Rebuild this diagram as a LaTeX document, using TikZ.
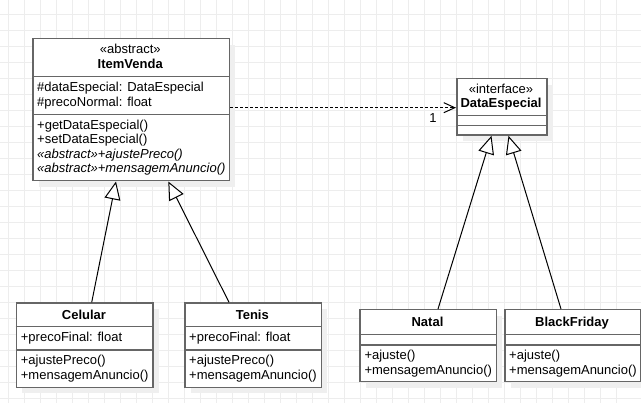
\documentclass[tikz,border=0pt]{standalone}
\usepackage{fontspec}
\setmainfont{Liberation Sans}
\usetikzlibrary{arrows.meta,calc,shadows}
\definecolor{gridc}{HTML}{EDEDED}
\definecolor{boxc}{HTML}{666666}
\definecolor{shadc}{HTML}{EFEFEF}
\tikzset{
  classbox/.style={rectangle, draw=boxc, line width=1.5pt, fill=white, inner sep=0pt,
    anchor=north west,
    drop shadow={shadow xshift=6pt, shadow yshift=-6pt, fill=shadc, opacity=1}},
  sepline/.style={draw=boxc, line width=1.5pt},
  txt/.style={inner sep=0pt, font=\fontsize{13}{14.4}\selectfont},
  gen/.style={draw=black, line width=1pt, -{Triangle[length=18pt,width=16pt,fill=white]}},
  dep/.style={draw=black, line width=1pt, dash pattern=on 3pt off 2pt, -{Straight Barb[length=11pt,width=10pt]}}
}
\begin{document}
\begin{tikzpicture}[x=1pt,y=-1pt]
\useasboundingbox (0,0) rectangle (641,403);
\fill[white] (0,0) rectangle (641,403);
% grid
\foreach \i in {0,...,38} { \draw[gridc, line width=1pt] (8.3+16*\i,0) -- (8.3+16*\i,403); }
\foreach \j in {0,...,24} { \draw[gridc, line width=1pt] (0,14.3+16*\j) -- (641,14.3+16*\j); }

% ItemVenda
\node[classbox, minimum width=196.5pt, minimum height=142pt] (iv) at (32,38) {};
\draw[sepline] (iv.west |- 0,76.7) -- (iv.east |- 0,76.7);
\draw[sepline] (iv.west |- 0,114.3) -- (iv.east |- 0,114.3);
\node[txt, anchor=base] (ivst) at (130.25,53.8) {«abstract»};
\node[txt, anchor=base, font=\fontsize{13}{14.4}\selectfont\bfseries] (ivn) at (130.25,68.2) {ItemVenda};
\node[txt, anchor=base west] (iva1) at (37,91.7) {\#dataEspecial: DataEspecial};
\node[txt, anchor=base west] (iva2) at (37,106.1) {\#precoNormal: float};
\node[txt, anchor=base west] (ivm1) at (37,129.3) {+getDataEspecial()};
\node[txt, anchor=base west] (ivm2) at (37,143.7) {+setDataEspecial()};
\node[txt, anchor=base west, font=\fontsize{13}{14.4}\selectfont\itshape] (ivm3) at (37,158.1) {«abstract»+ajustePreco()};
\node[txt, anchor=base west, font=\fontsize{13}{14.4}\selectfont\itshape] (ivm4) at (37,172.5) {«abstract»+mensagemAnuncio()};

% DataEspecial
\node[classbox, minimum width=90pt, minimum height=56.3pt] (de) at (456,78) {};
\draw[sepline] (de.west |- 0,115.7) -- (de.east |- 0,115.7);
\draw[sepline] (de.west |- 0,125.7) -- (de.east |- 0,125.7);
\node[txt, anchor=base] (dest) at (501,93.5) {«interface»};
\node[txt, anchor=base, font=\fontsize{13}{14.4}\selectfont\bfseries] (den) at (501,108) {DataEspecial};

% Celular
\node[classbox, minimum width=136.6pt, minimum height=84.4pt] (cel) at (15.7,302.3) {};
\draw[sepline] (cel.west |- 0,326.7) -- (cel.east |- 0,326.7);
\draw[sepline] (cel.west |- 0,350) -- (cel.east |- 0,350);
\node[txt, anchor=base, font=\fontsize{13}{14.4}\selectfont\bfseries] (celn) at (84,319.3) {Celular};
\node[txt, anchor=base west] (cela1) at (20.7,341.7) {+precoFinal: float};
\node[txt, anchor=base west] (celm1) at (20.7,365) {+ajustePreco()};
\node[txt, anchor=base west] (celm2) at (20.7,379.4) {+mensagemAnuncio()};

% Tenis
\node[classbox, minimum width=136.7pt, minimum height=84.4pt] (ten) at (184,302.3) {};
\draw[sepline] (ten.west |- 0,326.7) -- (ten.east |- 0,326.7);
\draw[sepline] (ten.west |- 0,350) -- (ten.east |- 0,350);
\node[txt, anchor=base, font=\fontsize{13}{14.4}\selectfont\bfseries] (tenn) at (252.3,319.3) {Tenis};
\node[txt, anchor=base west] (tena1) at (189,341.7) {+precoFinal: float};
\node[txt, anchor=base west] (tenm1) at (189,365) {+ajustePreco()};
\node[txt, anchor=base west] (tenm2) at (189,379.4) {+mensagemAnuncio()};

% Natal
\node[classbox, minimum width=136.4pt, minimum height=72pt] (nat) at (359.3,309) {};
\draw[sepline] (nat.west |- 0,334.3) -- (nat.east |- 0,334.3);
\draw[sepline] (nat.west |- 0,345) -- (nat.east |- 0,345);
\node[txt, anchor=base, font=\fontsize{13}{14.4}\selectfont\bfseries] (natn) at (427.5,326.8) {Natal};
\node[txt, anchor=base west] (natm1) at (364.3,360) {+ajuste()};
\node[txt, anchor=base west] (natm2) at (364.3,374.4) {+mensagemAnuncio()};

% BlackFriday
\node[classbox, minimum width=136pt, minimum height=72pt] (bf) at (504,309) {};
\draw[sepline] (bf.west |- 0,334.3) -- (bf.east |- 0,334.3);
\draw[sepline] (bf.west |- 0,345) -- (bf.east |- 0,345);
\node[txt, anchor=base, font=\fontsize{13}{14.4}\selectfont\bfseries] (bfn) at (572,326.8) {BlackFriday};
\node[txt, anchor=base west] (bfm1) at (509,360) {+ajuste()};
\node[txt, anchor=base west] (bfm2) at (509,374.4) {+mensagemAnuncio()};

% connectors
\draw[dep] (iv.east |- 0,107.7) -- (de.west |- 0,107.7);
\node[txt, anchor=base] (mult) at (433,122.3) {1};
\draw[gen] ($(cel.north west)+(76,0)$) -- ($(iv.south west)+(84,0)$);
\draw[gen] ($(ten.north west)+(45,0)$) -- ($(iv.south west)+(136.3,0)$);
\draw[gen] ($(nat.north west)+(78.7,0)$) -- ($(de.south west)+(35.5,0)$);
\draw[gen] ($(bf.north west)+(57,0)$) -- ($(de.south west)+(52.5,0)$);
\end{tikzpicture}
\end{document}
